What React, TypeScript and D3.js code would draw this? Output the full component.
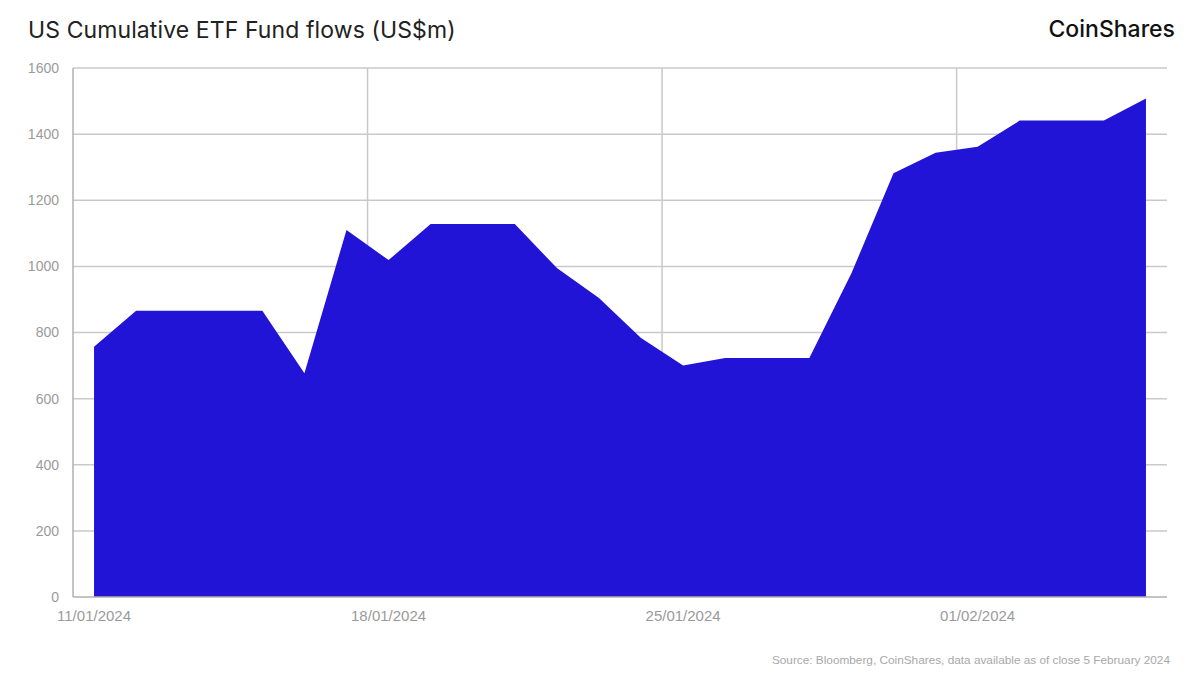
import { useEffect, useRef } from "react";
import * as d3 from "d3";

const dates = [
  "11/01/2024", "12/01/2024", "13/01/2024", "14/01/2024", "15/01/2024",
  "16/01/2024", "17/01/2024", "18/01/2024", "19/01/2024", "20/01/2024",
  "21/01/2024", "22/01/2024", "23/01/2024", "24/01/2024", "25/01/2024",
  "26/01/2024", "27/01/2024", "28/01/2024", "29/01/2024", "30/01/2024",
  "31/01/2024", "01/02/2024", "02/02/2024", "03/02/2024", "04/02/2024",
  "05/02/2024",
];

const flows = [
  757, 866, 866, 866, 866, 677, 1110, 1019, 1128, 1128, 1128, 995, 904, 783,
  700, 723, 723, 723, 979, 1282, 1344, 1362, 1441, 1441, 1441, 1508,
];

const xTickLabels = ["11/01/2024", "18/01/2024", "25/01/2024", "01/02/2024"];
const yTicks = [0, 200, 400, 600, 800, 1000, 1200, 1400, 1600];

const title = "US Cumulative ETF Fund flows (US$m)";
const source =
  "Source: Bloomberg, CoinShares, data available as of close 5 February 2024";

export default function App() {
  const ref = useRef<SVGSVGElement>(null);

  useEffect(() => {
    if (!ref.current) return;
    const width = 1200;
    const height = 674;
    const margin = { top: 68, right: 33, bottom: 77, left: 73 };

    const svg = d3.select(ref.current);
    svg.selectAll("*").remove();
    svg.attr("width", width).attr("height", height);

    const x = d3
      .scaleBand<string>()
      .domain(dates)
      .range([margin.left, width - margin.right]);
    const y = d3
      .scaleLinear()
      .domain([0, 1600])
      .range([height - margin.bottom, margin.top]);

    const grid = "#c9c9c9";

    // horizontal gridlines
    svg
      .append("g")
      .selectAll("line")
      .data(yTicks.filter((d) => d > 0))
      .enter()
      .append("line")
      .attr("x1", margin.left)
      .attr("x2", width - margin.right)
      .attr("y1", (d: number) => y(d))
      .attr("y2", (d: number) => y(d))
      .attr("stroke", grid)
      .attr("stroke-width", 1.5);

    // vertical gridlines at the start of each labelled day
    svg
      .append("g")
      .selectAll("line")
      .data(xTickLabels.slice(1))
      .enter()
      .append("line")
      .attr("x1", (d: string) => x(d)!)
      .attr("x2", (d: string) => x(d)!)
      .attr("y1", y(1600))
      .attr("y2", y(0))
      .attr("stroke", grid)
      .attr("stroke-width", 1.5);

    const area = d3
      .area<number>()
      .x((_d: number, i: number) => x(dates[i])! + x.bandwidth() / 2)
      .y0(y(0))
      .y1((d: number) => y(d));

    svg
      .append("path")
      .datum(flows)
      .attr("d", area)
      .attr("fill", "#2114d6");

    // axes lines
    svg
      .append("line")
      .attr("x1", margin.left)
      .attr("x2", margin.left)
      .attr("y1", y(1600))
      .attr("y2", y(0))
      .attr("stroke", "#b0b0b0")
      .attr("stroke-width", 1.5);
    svg
      .append("line")
      .attr("x1", margin.left)
      .attr("x2", width - margin.right)
      .attr("y1", y(0))
      .attr("y2", y(0))
      .attr("stroke", "#b0b0b0")
      .attr("stroke-width", 1.5);

    const axisFont = "'Liberation Sans', Arial, sans-serif";

    svg
      .append("g")
      .selectAll("text")
      .data(yTicks)
      .enter()
      .append("text")
      .attr("x", 59)
      .attr("y", (d: number) => y(d))
      .attr("dy", "0.35em")
      .attr("text-anchor", "end")
      .style("font-family", axisFont)
      .style("font-size", "14px")
      .attr("fill", "#9a9a9a")
      .text((d: number) => String(d));

    svg
      .append("g")
      .selectAll("text")
      .data(xTickLabels)
      .enter()
      .append("text")
      .attr("x", (d: string) => x(d)! + x.bandwidth() / 2)
      .attr("y", 621)
      .attr("text-anchor", "middle")
      .style("font-family", axisFont)
      .style("font-size", "15px")
      .attr("fill", "#9a9a9a")
      .text((d: string) => d);

    svg
      .append("text")
      .attr("x", 28)
      .attr("y", 38)
      .style("font-family", "Inter, 'Noto Sans', sans-serif")
      .style("font-size", "23px")
      .style("letter-spacing", "0.1px")
      .attr("fill", "#222")
      .text(title);

    svg
      .append("text")
      .attr("x", 1175)
      .attr("y", 37)
      .attr("text-anchor", "end")
      .style("font-family", "Inter, 'Noto Sans', sans-serif")
      .style("font-size", "23px")
      .style("font-weight", "500")
      .attr("fill", "#111")
      .text("CoinShares");

    svg
      .append("text")
      .attr("x", 1170)
      .attr("y", 664)
      .attr("text-anchor", "end")
      .style("font-family", axisFont)
      .style("font-size", "11.8px")
      .attr("fill", "#a8a8a8")
      .text(source);
  }, []);

  return (
    <div style={{ position: "absolute", top: 0, left: 0, background: "#fff" }}>
      <svg ref={ref} style={{ display: "block" }} />
    </div>
  );
}
